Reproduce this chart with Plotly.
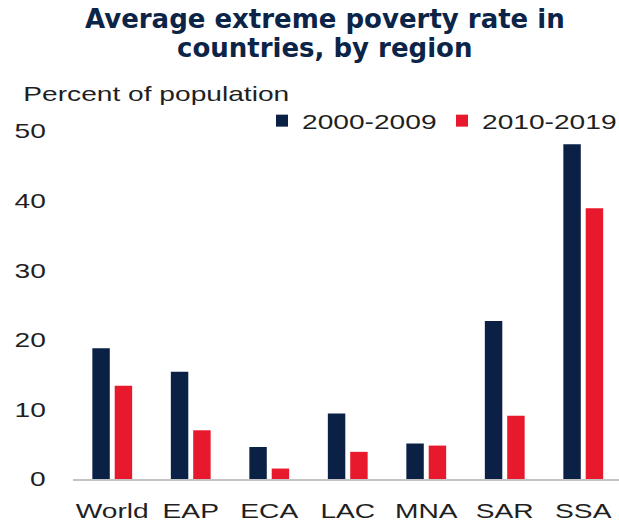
import plotly.graph_objects as go

# Regions and average extreme poverty rates (% of population)
regions = ["World", "EAP", "ECA", "LAC", "MNA", "SAR", "SSA"]
rate_2000s = [18.8, 15.4, 4.6, 9.4, 5.1, 22.7, 48.1]
rate_2010s = [13.4, 7.0, 1.5, 3.9, 4.8, 9.1, 38.9]
series_names = ["2000-2009", "2010-2019"]
y_ticks = [0, 10, 20, 30, 40, 50]

NAVY = "#0A2145"
RED = "#E8192C"
TITLE_COLOR = "#0B2447"
TEXT_COLOR = "#1F1F1F"
FONT = "Liberation Sans, Arial, sans-serif"
TITLE_FONT = "DejaVu Sans"
TEXT_STRETCH = 1.34  # horizontal widening applied to the body text

# Canvas and plot-area geometry (pixels)
FIG_W, FIG_H = 619, 522
M_L, M_R, M_T, M_B = 73, 0, 124, 43
PLOT_W = FIG_W - M_L - M_R
PLOT_H = FIG_H - M_T - M_B
CAT_PX = 78.5  # width of one category slot


def xp(px):
    return (px - M_L) / PLOT_W


def yp(py):
    return (M_T + PLOT_H - py) / PLOT_H


fig = go.Figure()
fig.add_trace(go.Bar(x=regions, y=rate_2000s, name=series_names[0],
                     marker=dict(color=NAVY, line=dict(width=0))))
fig.add_trace(go.Bar(x=regions, y=rate_2010s, name=series_names[1],
                     marker=dict(color=RED, line=dict(width=0))))

fig.update_layout(
    width=FIG_W, height=FIG_H,
    margin=dict(l=M_L, r=M_R, t=M_T, b=M_B, pad=0, autoexpand=False),
    paper_bgcolor="white", plot_bgcolor="white",
    barmode="group", bargap=0.43, bargroupgap=0.22,
    font=dict(family=FONT, size=21, color=TEXT_COLOR),
    showlegend=True,
    legend=dict(orientation="h", x=xp(262), y=yp(121),
                yanchor="middle", xanchor="left",
                font=dict(family=FONT, size=21, color=TEXT_COLOR),
                bgcolor="rgba(0,0,0,0)", itemclick=False, traceorder="normal",
                entrywidth=135, entrywidthmode="pixels"),
    xaxis=dict(
        type="category", range=[-0.5, -0.5 + PLOT_W / CAT_PX],
        showline=True, linecolor="#C4C4C4", linewidth=1.5,
        showgrid=False, zeroline=False,
        ticks="outside", ticklen=12, tickcolor="rgba(0,0,0,0)",
        tickfont=dict(family=FONT, size=21, color=TEXT_COLOR),
    ),
    yaxis=dict(
        range=[0, 51], tickvals=y_ticks, ticktext=[str(v) for v in y_ticks],
        showline=False, showgrid=False, zeroline=False,
        ticks="outside", ticklen=22, tickcolor="rgba(0,0,0,0)",
        tickfont=dict(family=FONT, size=21, color=TEXT_COLOR),
    ),
)

annotations = [
    dict(text="<b>Average extreme poverty rate in</b>", x=xp(325), y=yp(19),
         xanchor="center", yanchor="middle",
         font=dict(family=TITLE_FONT, size=26, color=TITLE_COLOR)),
    dict(text="<b>countries, by region</b>", x=xp(324), y=yp(48),
         xanchor="center", yanchor="middle",
         font=dict(family=TITLE_FONT, size=26, color=TITLE_COLOR)),
    dict(text="Percent of population", x=xp(156), y=yp(94),
         xanchor="center", yanchor="middle",
         font=dict(family=FONT, size=21, color=TEXT_COLOR)),
]
for a in annotations:
    a.update(xref="paper", yref="paper", showarrow=False)
fig.update_layout(annotations=annotations)

# Widen tick labels, legend entries and the axis caption horizontally;
# re-applied whenever the figure is redrawn.
stretch_js = """
var gd = document.getElementById('{plot_id}');
var s = %s;
var sel = '.xtick text, .ytick text, .legendtext, g.annotation[data-index="2"] text';
function widen() {
  gd.querySelectorAll(sel).forEach(function (t) {
    t.removeAttribute('textLength');
    var w = t.getComputedTextLength();
    t.setAttribute('textLength', (w * s).toFixed(2));
    t.setAttribute('lengthAdjust', 'spacingAndGlyphs');
  });
  gd.querySelectorAll('.legend .scrollbox').forEach(function (g) {
    g.removeAttribute('clip-path');
  });
}
widen();
gd.on('plotly_afterplot', widen);
setTimeout(widen, 50);
setTimeout(widen, 300);
""" % TEXT_STRETCH

fig.write_html("out.html", post_script=stretch_js)
